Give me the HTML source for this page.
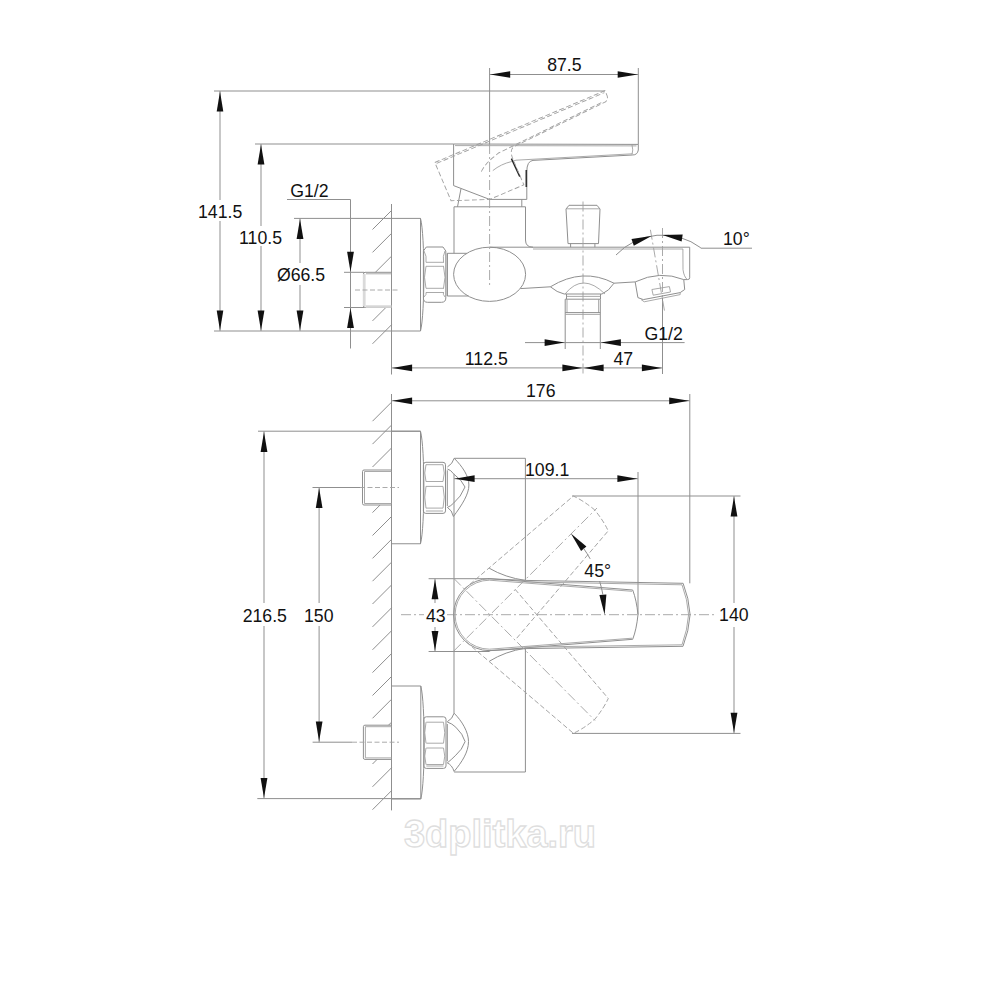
<!DOCTYPE html>
<html><head><meta charset="utf-8"><style>
html,body{margin:0;padding:0;background:#fff;width:1000px;height:1000px;overflow:hidden}
svg{position:absolute;left:0;top:0}
.l{stroke:#8f8f8f;stroke-width:1.0;fill:none}
.l2{stroke:#a0a0a0;stroke-width:0.9;fill:none}
.dl{stroke:#a0a0a0;stroke-width:0.9;fill:none;stroke-dasharray:5 2.5}
.cl{stroke:#a0a0a0;stroke-width:0.9;fill:none;stroke-dasharray:10 3 2 3}
.dk{stroke:#222;stroke-width:1.4;fill:none}
.dk2{stroke:#333;stroke-width:1.6;fill:none}
.ar{fill:#111;stroke:none}
text{font-family:"Liberation Sans",sans-serif;fill:#111}
.wm{font-family:"Liberation Sans",sans-serif;font-weight:bold;font-size:38px;fill:#fff;stroke:#dedede;stroke-width:1.3}
</style></head><body>
<svg width="1000" height="1000" viewBox="0 0 1000 1000">
<line x1="391.5" y1="204.0" x2="391.5" y2="374.5" class="l"/>
<line x1="391.5" y1="210.5" x2="372.5" y2="229.5" class="l"/>
<line x1="391.5" y1="233.4" x2="372.5" y2="252.4" class="l"/>
<line x1="391.5" y1="256.2" x2="375.4" y2="272.3" class="l"/>
<line x1="385.9" y1="307.5" x2="372.5" y2="320.9" class="l"/>
<line x1="391.5" y1="324.8" x2="372.5" y2="343.8" class="l"/>
<line x1="391.5" y1="218.4" x2="420.5" y2="218.4" class="l"/>
<line x1="420.5" y1="218.4" x2="420.5" y2="331.0" class="l"/>
<path d="M420.5,218.4 C425,235 425,314 420.5,331" class="l"/>
<path d="M391.5,272.3 L365,272.3 Q363.5,272.3 363.5,274 L363.5,305.8 Q363.5,307.5 365,307.5 L391.5,307.5" class="l"/>
<line x1="366.0" y1="273.8" x2="391.5" y2="273.8" class="l2"/>
<rect x="365.5" y="305.3" width="26" height="2.6" fill="#d6d6d6"/>
<rect x="362.8" y="274" width="2.8" height="32" fill="#dadada"/>
<path d="M355,290 L400,290" class="dl"/>
<line x1="214.0" y1="91.0" x2="605.0" y2="91.0" class="l"/>
<line x1="220.0" y1="91.0" x2="220.0" y2="200.0" class="l"/>
<line x1="220.0" y1="221.0" x2="220.0" y2="331.0" class="l"/>
<polygon points="220.0,91.6 223.3,111.6 216.7,111.6" class="ar"/>
<polygon points="220.0,330.4 216.7,310.4 223.3,310.4" class="ar"/>
<text x="198.0" y="217.5" text-anchor="start" font-size="17.7">141.5</text>
<line x1="255.0" y1="144.0" x2="453.6" y2="144.0" class="l"/>
<line x1="261.0" y1="144.0" x2="261.0" y2="226.0" class="l"/>
<line x1="261.0" y1="246.0" x2="261.0" y2="331.0" class="l"/>
<polygon points="261.0,144.6 264.4,164.6 257.6,164.6" class="ar"/>
<polygon points="261.0,330.4 257.6,310.4 264.4,310.4" class="ar"/>
<text x="239.1" y="244.0" text-anchor="start" font-size="17.7">110.5</text>
<line x1="294.0" y1="218.4" x2="391.5" y2="218.4" class="l"/>
<line x1="300.0" y1="218.4" x2="300.0" y2="263.0" class="l"/>
<line x1="300.0" y1="285.0" x2="300.0" y2="331.0" class="l"/>
<polygon points="300.0,219.0 303.4,239.0 296.6,239.0" class="ar"/>
<polygon points="300.0,330.4 296.6,310.4 303.4,310.4" class="ar"/>
<text x="276.9" y="281.0" text-anchor="start" font-size="17.7">Ø66.5</text>
<line x1="214.0" y1="331.0" x2="420.5" y2="331.0" class="l"/>
<line x1="287.0" y1="199.5" x2="350.5" y2="199.5" class="l"/>
<line x1="350.5" y1="199.5" x2="350.5" y2="348.5" class="l"/>
<polygon points="350.5,271.7 347.1,251.7 353.9,251.7" class="ar"/>
<polygon points="350.5,308.1 353.9,328.1 347.1,328.1" class="ar"/>
<line x1="344.0" y1="272.3" x2="364.0" y2="272.3" class="l"/>
<line x1="344.0" y1="307.5" x2="364.0" y2="307.5" class="l"/>
<text x="290.2" y="197.2" text-anchor="start" font-size="17.7">G1/2</text>
<line x1="489.6" y1="68.0" x2="489.6" y2="144.0" class="l"/>
<line x1="638.3" y1="68.0" x2="638.3" y2="144.4" class="l"/>
<line x1="489.6" y1="74.5" x2="638.3" y2="74.5" class="l"/>
<polygon points="490.2,74.5 510.2,71.2 510.2,77.8" class="ar"/>
<polygon points="637.7,74.5 617.7,77.8 617.7,71.2" class="ar"/>
<text x="547.2" y="71.4" text-anchor="start" font-size="17.7">87.5</text>
<path d="M426.3,247 L443,247 L445.8,251 L445.8,298 Q445.8,302.3 441.5,302.3 L427.5,302.3 Q423.4,302.3 423.4,298 L423.4,251 Z" class="l"/>
<line x1="426.0" y1="262.3" x2="444.0" y2="262.3" class="l2"/>
<line x1="426.0" y1="266.3" x2="444.0" y2="266.3" class="l2"/>
<line x1="426.0" y1="288.3" x2="444.0" y2="288.3" class="l2"/>
<line x1="426.0" y1="292.5" x2="444.0" y2="292.5" class="l2"/>
<path d="M426,266.3 Q423,277.3 426,288.3" class="l2"/>
<path d="M443.5,266.3 Q446.5,277.3 443.5,288.3" class="l2"/>
<path d="M424,251 Q427,256 426,262.3" class="l2"/>
<path d="M445,251 Q442.5,256 443.5,262.3" class="l2"/>
<path d="M424,297 Q427,294 426,292.5" class="l2"/>
<path d="M445,297 Q442.5,294 443.5,292.5" class="l2"/>
<line x1="447.3" y1="253.3" x2="447.3" y2="296.0" class="l"/>
<path d="M466.9,253.3 L447.3,253.3 L447.3,296 L468.5,296" class="l"/>
<ellipse cx="489.6" cy="274.3" rx="36" ry="27.1" class="l"/>
<path d="M454,253.3 L454,206.8 L525.5,206.8 L525.5,240 Q525.5,247.2 533,247.2 L689.7,247.2" class="l"/>
<line x1="533.0" y1="249.0" x2="683.0" y2="249.0" class="l2"/>
<line x1="489.6" y1="247.2" x2="533.0" y2="247.2" class="l"/>
<line x1="457.5" y1="206.8" x2="461.0" y2="188.6" class="l"/>
<line x1="521.8" y1="199.4" x2="521.8" y2="206.8" class="l"/>
<path d="M489.6,144 L489.6,285" class="cl"/>
<path d="M453.6,144 L638.3,144.4 L638.3,150 Q637.5,155 632.5,155 L533,160.4 Q526.8,161 526.8,171.8 L526.8,199.4 L489.6,199.4 L453.6,185.6 Z" class="l"/>
<line x1="455.0" y1="145.6" x2="636.5" y2="145.9" class="l2"/>
<path d="M492.8,170.6 Q501,164 511.4,161.6 L516,160.2 L632.5,153.8" class="l2"/>
<path d="M632,145 Q633.5,150 632,154.5" class="l2"/>
<path d="M511.4,158.6 L519.8,176.6" class="dk"/>
<path d="M526.3,170 L526.3,187" class="dk2"/>
<g transform="rotate(-23 489.6 199.4)">
<path d="M453.6,144 L638.3,144.4 L638.3,150 Q637.5,155 632.5,155 L533,160.4 Q526.8,161 526.8,171.8 L526.8,199.4 L489.6,199.4 L453.6,185.6 Z" class="dl"/>
<path d="M492.8,170.6 Q501,164 511.4,161.6 L516,160.2 L632.5,153.8" class="dl"/>
<path d="M455,145.6 L637,146" class="dl"/>
</g>
<path d="M569,205.3 L597,205.3 L600,209 L598.5,243.6 L568,243.6 L566,209 Z" class="l"/>
<line x1="566.5" y1="208.8" x2="599.5" y2="208.8" class="l2"/>
<line x1="570.6" y1="243.6" x2="570.6" y2="247.2" class="l"/>
<line x1="594.9" y1="243.6" x2="594.9" y2="247.2" class="l"/>
<path d="M583,201.5 L583,374.6" class="cl"/>
<path d="M520.4,288.6 L550.4,286.8 Q582.8,267 614,283.2 L635.2,281.9 Q660,270 683.8,279.6" class="l"/>
<path d="M550.4,286.8 Q557,292.5 564.2,294 L602,294 Q609,291 614,283.2" class="l"/>
<path d="M565,294 Q582.8,272 605,294" class="l2"/>
<path d="M689.7,247.2 L689.7,277.8 Q689.7,279.6 687.4,279.6 L683.8,279.6" class="l"/>
<path d="M682.9,249 L683,269.7 Q684,277 687.4,279.6" class="l2"/>
<line x1="566.5" y1="294.0" x2="566.5" y2="299.0" class="l"/>
<line x1="600.5" y1="294.0" x2="600.5" y2="299.0" class="l"/>
<line x1="566.5" y1="296.4" x2="600.5" y2="296.4" class="l2"/>
<line x1="565.2" y1="299.2" x2="600.3" y2="299.2" class="l"/>
<line x1="565.2" y1="299.2" x2="565.2" y2="349.0" class="l"/>
<line x1="600.3" y1="299.2" x2="600.3" y2="349.0" class="l"/>
<line x1="567.0" y1="299.2" x2="567.0" y2="313.0" class="l2"/>
<line x1="598.6" y1="299.2" x2="598.6" y2="313.0" class="l2"/>
<line x1="565.2" y1="312.6" x2="600.3" y2="312.6" class="l"/>
<line x1="565.2" y1="314.4" x2="600.3" y2="314.4" class="l2"/>
<path d="M635.2,282 L637.9,297.6 L643.3,299.6 L680.2,292.6 L684.7,289.5 L683.8,280" class="l"/>
<path d="M641,299.5 L644.2,301.8 L680.2,294.6 L680.2,292.6" class="l2"/>
<path d="M651.9,289.5 L669.4,286.6 L670.5,292 L653.2,295.2 Z" class="l2"/>
<path d="M662.5,228 L662.5,298" class="cl"/>
<line x1="662.5" y1="298.0" x2="662.5" y2="374.0" class="l"/>
<path d="M650.4,229.8 L664.8,312.6" class="cl"/>
<path d="M616.0,255.0 A64,64 0 0 1 700.8,247.8" class="l"/>
<polygon points="651.5,236.0 633.8,245.7 631.5,239.1" class="ar"/>
<polygon points="662.5,235.0 682.7,234.6 681.6,241.6" class="ar"/>
<line x1="700.8" y1="248.2" x2="752.0" y2="248.2" class="l"/>
<text x="723.0" y="244.8" text-anchor="start" font-size="17.7">10°</text>
<line x1="525.0" y1="342.6" x2="684.6" y2="342.6" class="l"/>
<polygon points="564.6,342.6 544.6,346.0 544.6,339.2" class="ar"/>
<polygon points="600.9,342.6 620.9,339.2 620.9,346.0" class="ar"/>
<text x="644.5" y="339.8" text-anchor="start" font-size="17.7">G1/2</text>
<line x1="391.5" y1="367.9" x2="662.5" y2="367.9" class="l"/>
<polygon points="392.1,367.9 412.1,364.5 412.1,371.2" class="ar"/>
<polygon points="582.4,367.9 562.4,371.2 562.4,364.5" class="ar"/>
<polygon points="583.6,367.9 603.6,364.5 603.6,371.2" class="ar"/>
<polygon points="661.9,367.9 641.9,371.2 641.9,364.5" class="ar"/>
<text x="464.8" y="364.5" text-anchor="start" font-size="17.7">112.5</text>
<text x="613.5" y="364.8" text-anchor="start" font-size="17.7">47</text>
<line x1="391.5" y1="400.8" x2="689.8" y2="400.8" class="l"/>
<polygon points="392.1,400.8 412.1,397.4 412.1,404.2" class="ar"/>
<polygon points="689.2,400.8 669.2,404.2 669.2,397.4" class="ar"/>
<text x="526.0" y="396.9" text-anchor="start" font-size="17.7">176</text>
<line x1="689.8" y1="394.0" x2="689.8" y2="583.3" class="l"/>
<line x1="391.5" y1="394.0" x2="391.5" y2="810.4" class="l"/>
<line x1="391.5" y1="402.2" x2="372.5" y2="421.2" class="l"/>
<line x1="391.5" y1="425.1" x2="372.5" y2="444.1" class="l"/>
<line x1="391.5" y1="448.0" x2="372.5" y2="467.0" class="l"/>
<line x1="380.1" y1="505.0" x2="372.5" y2="512.6" class="l"/>
<line x1="391.5" y1="516.5" x2="372.5" y2="535.5" class="l"/>
<line x1="391.5" y1="539.4" x2="372.5" y2="558.4" class="l"/>
<line x1="391.5" y1="562.2" x2="372.5" y2="581.2" class="l"/>
<line x1="391.5" y1="585.0" x2="372.5" y2="604.0" class="l"/>
<line x1="391.5" y1="607.9" x2="372.5" y2="626.9" class="l"/>
<line x1="391.5" y1="630.8" x2="372.5" y2="649.8" class="l"/>
<line x1="391.5" y1="653.6" x2="372.5" y2="672.6" class="l"/>
<line x1="391.5" y1="676.5" x2="372.5" y2="695.5" class="l"/>
<line x1="391.5" y1="699.3" x2="372.5" y2="718.3" class="l"/>
<line x1="391.5" y1="722.2" x2="388.5" y2="725.2" class="l"/>
<line x1="377.1" y1="759.4" x2="372.5" y2="764.0" class="l"/>
<line x1="391.5" y1="767.8" x2="372.5" y2="786.8" class="l"/>
<line x1="391.5" y1="790.7" x2="372.5" y2="809.7" class="l"/>
<path d="M391.5,431.25 L420.5,431.25 L420.5,543.75 L391.5,543.75" class="l"/>
<path d="M420.5,431.25 C425,448 425,527 420.5,543.75" class="l"/>
<path d="M391.5,686 L420.8,686 L420.8,799 L391.5,799" class="l"/>
<path d="M420.8,686 C425.3,703 425.3,782 420.8,799" class="l"/>
<path d="M391.5,470 L364.0,470 Q362.5,470 362.5,471.5 L362.5,503.5 Q362.5,505 364.0,505 L391.5,505" class="l"/>
<line x1="364.5" y1="471.5" x2="391.5" y2="471.5" class="l2"/>
<line x1="364.5" y1="503.5" x2="391.5" y2="503.5" class="l2"/>
<line x1="364.5" y1="471.5" x2="364.5" y2="503.5" class="l2"/>
<path d="M391.5,725.2 L364.9,725.2 Q363.4,725.2 363.4,726.7 L363.4,757.9 Q363.4,759.4 364.9,759.4 L391.5,759.4" class="l"/>
<line x1="365.4" y1="726.7" x2="391.5" y2="726.7" class="l2"/>
<line x1="365.4" y1="757.9" x2="391.5" y2="757.9" class="l2"/>
<line x1="365.4" y1="726.7" x2="365.4" y2="757.9" class="l2"/>
<path d="M360,487.5 L399,487.5" class="dl"/>
<path d="M352,742.2 L399,742.2" class="dl"/>
<path d="M425.9,462.3 L443.0,462.3 Q445.5,462.3 445.5,464.8 L445.5,510.9 Q445.5,513.4 443.0,513.4 L425.9,513.4 Q423.4,513.4 423.4,510.9 L423.4,464.8 Q423.4,462.3 425.9,462.3 Z" class="l"/>
<line x1="425.9" y1="464.7" x2="443.0" y2="464.7" class="l2"/>
<line x1="425.9" y1="481.5" x2="443.0" y2="481.5" class="l2"/>
<line x1="425.9" y1="486.4" x2="443.0" y2="486.4" class="l2"/>
<line x1="425.9" y1="508.1" x2="443.0" y2="508.1" class="l2"/>
<line x1="425.9" y1="511.0" x2="443.0" y2="511.0" class="l2"/>
<path d="M426,464.7 Q423.5,473 426,481.5" class="l2"/>
<path d="M443,464.7 Q445.5,473 443,481.5" class="l2"/>
<path d="M426,486.4 Q423.5,497 426,508.1" class="l2"/>
<path d="M443,486.4 Q445.5,497 443,508.1" class="l2"/>
<path d="M426.3,716.8 L443.5,716.8 Q446,716.8 446,719.3 L446,765.9 Q446,768.4 443.5,768.4 L426.3,768.4 Q423.8,768.4 423.8,765.9 L423.8,719.3 Q423.8,716.8 426.3,716.8 Z" class="l"/>
<line x1="426.3" y1="722.2" x2="443.5" y2="722.2" class="l2"/>
<line x1="426.3" y1="743.2" x2="443.5" y2="743.2" class="l2"/>
<line x1="426.3" y1="748.0" x2="443.5" y2="748.0" class="l2"/>
<line x1="426.3" y1="764.5" x2="443.5" y2="764.5" class="l2"/>
<line x1="426.3" y1="766.0" x2="443.5" y2="766.0" class="l2"/>
<path d="M426,722.2 Q423.5,732.7 426,743.2" class="l2"/>
<path d="M443.5,722.2 Q446,732.7 443.5,743.2" class="l2"/>
<path d="M426,748 Q423.5,756 426,764.5" class="l2"/>
<path d="M443.5,748 Q446,756 443.5,764.5" class="l2"/>
<line x1="447.3" y1="470.3" x2="447.3" y2="506.0" class="l"/>
<line x1="447.3" y1="724.0" x2="447.3" y2="761.2" class="l"/>
<path d="M447.4,467 Q452.5,464 454.2,458.3 C462,466 469,476 468.9,485 C469,494 462,505 453.4,516.5 Q452,510 447.4,507.4" class="l"/>
<path d="M447.4,469 Q451,470 453.5,473.8 Q462,480 465,487 Q461,497 453.5,503.2 Q451,506 447.4,507.4" class="l"/>
<path d="M447.3,721.7 Q452.5,719 454.1,713.2 C462,721 468.5,732 468.5,741.6 C468.5,752 462,762 454.1,771.4 Q452,765 447.3,762.9" class="l"/>
<path d="M447.3,722 Q452,723.5 455.8,727.2 Q463,734 465.1,741.6 Q462,750 455.8,755.2 Q451,760 447.3,762.9" class="l"/>
<path d="M454.2,458.3 L525.4,458.3 L525.4,580.4" class="l"/>
<line x1="525.4" y1="648.4" x2="525.4" y2="772.0" class="l"/>
<line x1="454.0" y1="473.8" x2="454.0" y2="713.2" class="l"/>
<line x1="454.1" y1="772.0" x2="525.4" y2="772.0" class="l"/>
<line x1="258.0" y1="431.2" x2="420.5" y2="431.2" class="l"/>
<line x1="257.3" y1="798.6" x2="420.8" y2="798.6" class="l"/>
<line x1="264.0" y1="431.2" x2="264.0" y2="603.0" class="l"/>
<line x1="264.0" y1="626.0" x2="264.0" y2="798.6" class="l"/>
<polygon points="264.0,431.9 267.4,451.9 260.6,451.9" class="ar"/>
<polygon points="264.0,798.0 260.6,778.0 267.4,778.0" class="ar"/>
<text x="242.7" y="621.6" text-anchor="start" font-size="17.7">216.5</text>
<line x1="312.5" y1="487.5" x2="360.0" y2="487.5" class="l"/>
<line x1="312.6" y1="742.2" x2="352.0" y2="742.2" class="l"/>
<line x1="319.1" y1="487.5" x2="319.1" y2="603.0" class="l"/>
<line x1="319.1" y1="626.0" x2="319.1" y2="742.2" class="l"/>
<polygon points="319.1,488.1 322.5,508.1 315.8,508.1" class="ar"/>
<polygon points="319.1,741.6 315.8,721.6 322.5,721.6" class="ar"/>
<text x="304.0" y="621.6" text-anchor="start" font-size="17.7">150</text>
<line x1="428.6" y1="578.7" x2="489.6" y2="578.7" class="l"/>
<line x1="428.6" y1="651.5" x2="489.6" y2="651.5" class="l"/>
<line x1="435.0" y1="578.7" x2="435.0" y2="603.0" class="l"/>
<line x1="435.0" y1="627.0" x2="435.0" y2="651.5" class="l"/>
<polygon points="435.0,579.3 438.4,599.3 431.6,599.3" class="ar"/>
<polygon points="435.0,650.9 431.6,630.9 438.4,630.9" class="ar"/>
<text x="426.0" y="621.5" text-anchor="start" font-size="17.7">43</text>
<path d="M401,614.7 L424,614.7 M447,614.7 L716,614.7" class="cl"/>
<line x1="454.0" y1="478.7" x2="638.0" y2="478.7" class="l"/>
<polygon points="454.6,478.7 474.6,475.3 474.6,482.1" class="ar"/>
<polygon points="637.4,478.7 617.4,482.1 617.4,475.3" class="ar"/>
<text x="525.0" y="475.7" text-anchor="start" font-size="17.7">109.1</text>
<line x1="638.0" y1="472.0" x2="638.0" y2="614.7" class="l"/>
<line x1="572.0" y1="496.0" x2="740.5" y2="496.0" class="l"/>
<line x1="572.0" y1="733.4" x2="740.5" y2="733.4" class="l"/>
<line x1="734.0" y1="496.0" x2="734.0" y2="603.0" class="l"/>
<line x1="734.0" y1="627.0" x2="734.0" y2="733.4" class="l"/>
<polygon points="734.0,496.6 737.4,516.6 730.6,516.6" class="ar"/>
<polygon points="734.0,732.8 730.6,712.8 737.4,712.8" class="ar"/>
<text x="719.1" y="621.4" text-anchor="start" font-size="17.7">140</text>
<path d="M489.6,578.7 L632.7,590 Q636.5,600 638,614.7 Q636.5,629.4 632.7,639.3 L489.6,650.7 A36,36 0 0 1 489.6,578.7 Z" class="l"/>
<path d="M489.6,580.2 L632,591.3 M489.6,649.2 L632,638.2" class="l2"/>
<path d="M489.6,580.2 A34.5,34.5 0 0 0 489.6,649.2" class="l2"/>
<path d="M488,578.7 L525.4,580.4 L683.1,583.3 Q689,598 690.1,614.7 Q689,631 683,646.3 L525.4,648.6 L488,650.7" class="l"/>
<path d="M525.4,581.9 L682,584.8 Q687.5,599 688.6,614.7 Q687.5,630 682,644.8 L525.4,647.1" class="l2"/>
<path d="M489.2,568.2 Q505,577.5 525.4,580.4" class="l"/>
<path d="M489.4,661.2 Q505,651.5 525.4,648.2" class="l"/>
<g transform="rotate(-45 489.6 614.7)">
<path d="M489.6,578.7 L632.7,590 Q636.5,600 638,614.7 Q636.5,629.4 632.7,639.3 L489.6,650.7" class="dl"/>
</g>
<g transform="rotate(45 489.6 614.7)">
<path d="M489.6,578.7 L632.7,590 Q636.5,600 638,614.7 Q636.5,629.4 632.7,639.3 L489.6,650.7" class="dl"/>
</g>
<path d="M453.8,578.4 L595,720.5" class="cl"/>
<path d="M453.8,651 L597,508" class="cl"/>
<polygon points="570.9,533.4 586.4,546.4 581.1,550.9" class="ar"/>
<polygon points="604.6,614.7 599.4,595.1 606.4,594.5" class="ar"/>
<path d="M583.8,548.7 A115,115 0 0 1 590.2,558.9" class="l"/>
<path d="M599.6,581.1 A115,115 0 0 1 602.9,594.7" class="l"/>
<text x="584.3" y="576.6" text-anchor="start" font-size="17.7">45°</text>
<text x="500" y="847" text-anchor="middle" class="wm">3dplitka.ru</text>
</svg>
</body></html>
